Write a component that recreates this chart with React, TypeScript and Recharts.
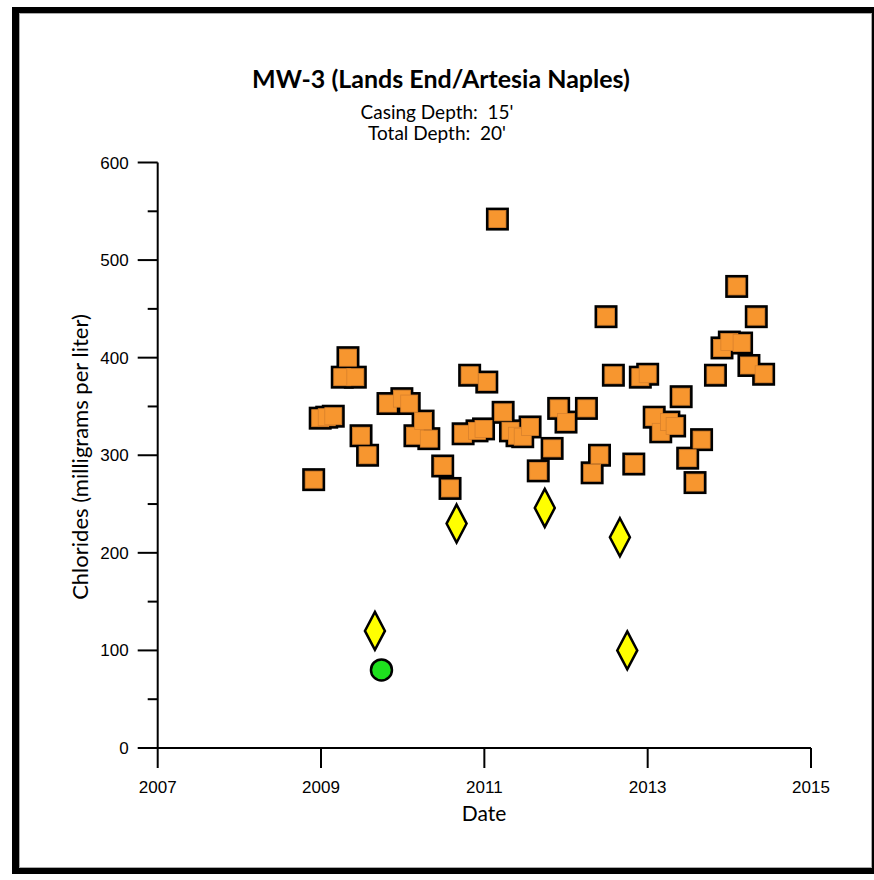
import React from 'react';
import { ScatterChart, Scatter, XAxis, YAxis } from 'recharts';

// sample dates (decimal years) and chloride values
const squareDates = [
  2008.91, 2008.99, 2009.07, 2009.15, 2009.26, 2009.33, 2009.42, 2009.49, 2009.57, 2009.82,
  2009.99, 2010.08, 2010.15, 2010.25, 2010.32, 2010.49, 2010.58, 2010.74, 2010.82, 2010.91,
  2010.99, 2011.03, 2011.16, 2011.23, 2011.32, 2011.40, 2011.47, 2011.56, 2011.66, 2011.83,
  2011.91, 2012.0, 2012.25, 2012.32, 2012.41, 2012.49, 2012.58, 2012.83, 2012.91, 2013.0,
  2013.08, 2013.16, 2013.26, 2013.33, 2013.41, 2013.49, 2013.58, 2013.66, 2013.83, 2013.91,
  2014.0, 2014.09, 2014.15, 2014.24, 2014.33, 2014.42,
];
const squareValues = [
  275, 338, 339, 340, 380, 400, 380, 320, 300, 353,
  358, 353, 320, 335, 317, 289, 266, 322, 382, 325,
  327, 375, 542, 344, 325, 320, 319, 329, 284, 307,
  348, 334, 348, 282, 300, 442, 382, 291, 380, 383,
  339, 324, 334, 330, 360, 297, 272, 316, 382, 410,
  416, 473, 415, 392, 442, 383,
];

const diamondDates = [2009.66, 2010.66, 2011.74, 2012.66, 2012.75];
const diamondValues = [120, 230, 246, 216, 100];

const circleDates = [2009.74];
const circleValues = [80];

const xTicks = [2007, 2009, 2011, 2013, 2015];
const yTicks = [0, 50, 100, 150, 200, 250, 300, 350, 400, 450, 500, 550, 600];

const toPoints = (xs: number[], ys: number[]) => xs.map((x, i) => ({ x, y: ys[i] }));

const squares = toPoints(squareDates, squareValues);
const diamonds = toPoints(diamondDates, diamondValues);
const circles = toPoints(circleDates, circleValues);

const ORANGE = '#F7962F';
const calibri = 'Lato, "Open Sans", sans-serif';
const arial = '"Liberation Sans", Arial, sans-serif';

const SquareOutline = (p: any) => (
  <rect x={p.cx - 11.5} y={p.cy - 11.5} width={23} height={23} fill="#000" />
);
const SquareFill = (p: any) => (
  <rect x={p.cx - 8.5} y={p.cy - 8.5} width={17} height={17} fill={ORANGE} stroke="#D8812C" strokeWidth={0.8} />
);
const Diamond = (p: any) => (
  <path
    d={`M${p.cx},${p.cy - 19} L${p.cx + 10},${p.cy} L${p.cx},${p.cy + 19} L${p.cx - 10},${p.cy} Z`}
    fill="#FFFF00"
    stroke="#000"
    strokeWidth={2.5}
  />
);
const Dot = (p: any) => (
  <circle cx={p.cx} cy={p.cy} r={10.5} fill="#1EE01E" stroke="#000" strokeWidth={2.5} />
);

const YTick = (props: any) => {
  const { x, y, payload } = props;
  const major = payload.value % 100 === 0;
  const axisX = x + 29; // tickSize 20 + tickMargin 9
  return (
    <g>
      <line x1={axisX - (major ? 20 : 10)} x2={axisX} y1={y} y2={y} stroke="#000" strokeWidth={2} />
      {major && (
        <text x={x} y={y} dy={6} textAnchor="end" fontSize={17} fontFamily={arial} fill="#000">
          {payload.value}
        </text>
      )}
    </g>
  );
};

const XTick = (props: any) => {
  const { x, y, payload } = props;
  return (
    <text x={x} y={y} dy={23} textAnchor="middle" fontSize={17} fontFamily={arial} fill="#000">
      {payload.value}
    </text>
  );
};

const textBase = {
  position: 'absolute' as const,
  whiteSpace: 'pre' as const,
  fontFamily: calibri,
  color: '#000',
  lineHeight: 1,
};

export default function App() {
  return (
    <div style={{ position: 'absolute', left: 0, top: 0, width: 874, height: 880, background: '#fff' }}>
      {/* frame */}
      <div
        style={{
          position: 'absolute',
          left: 12,
          top: 7,
          width: 862,
          height: 867,
          boxSizing: 'border-box',
          borderStyle: 'solid',
          borderColor: '#000',
          borderWidth: '6px 2px 6px 7px',
        }}
      >
        <div style={{ width: '100%', height: '100%', boxSizing: 'border-box', border: '1px solid #aaa' }} />
      </div>

      <div style={{ position: 'absolute', left: 0, top: 0 }}>
        <ScatterChart width={874} height={880} margin={{ top: 162.5, right: 63, bottom: 92, left: 97.7 }}>
          <XAxis
            type="number"
            dataKey="x"
            domain={[2007, 2015]}
            ticks={xTicks}
            allowDataOverflow
            height={40}
            tickSize={20}
            tickMargin={2}
            axisLine={{ stroke: '#000', strokeWidth: 2 }}
            tickLine={{ stroke: '#000', strokeWidth: 2 }}
            tick={<XTick />}
            interval={0}
          />
          <YAxis
            type="number"
            dataKey="y"
            domain={[0, 600]}
            ticks={yTicks}
            allowDataOverflow
            width={60}
            tickSize={20}
            tickMargin={9}
            axisLine={{ stroke: '#000', strokeWidth: 2 }}
            tickLine={false}
            tick={<YTick />}
            interval={0}
          />
          <Scatter data={squares} shape={SquareOutline} isAnimationActive={false} />
          <Scatter data={squares} shape={SquareFill} isAnimationActive={false} />
          <Scatter data={diamonds} shape={Diamond} isAnimationActive={false} />
          <Scatter data={circles} shape={Dot} isAnimationActive={false} />
        </ScatterChart>
      </div>

      {/* titles */}
      <div style={{ ...textBase, left: 441, top: 78, transform: 'translate(-50%, -50%)', fontWeight: 700, fontSize: 25 }}>
        MW-3 (Lands End/Artesia Naples)
      </div>
      <div style={{ ...textBase, left: 437, top: 111, transform: 'translate(-50%, -50%)', fontSize: 19 }}>
        {"Casing Depth:  15'"}
      </div>
      <div style={{ ...textBase, left: 437, top: 132, transform: 'translate(-50%, -50%)', fontSize: 19 }}>
        {"Total Depth:  20'"}
      </div>
      <div style={{ ...textBase, left: 484, top: 812, transform: 'translate(-50%, -50%)', fontSize: 21 }}>
        Date
      </div>
      <div style={{ ...textBase, left: 80, top: 457, transform: 'translate(-50%, -50%) rotate(-90deg)', fontSize: 22 }}>
        Chlorides (milligrams per liter)
      </div>
    </div>
  );
}
